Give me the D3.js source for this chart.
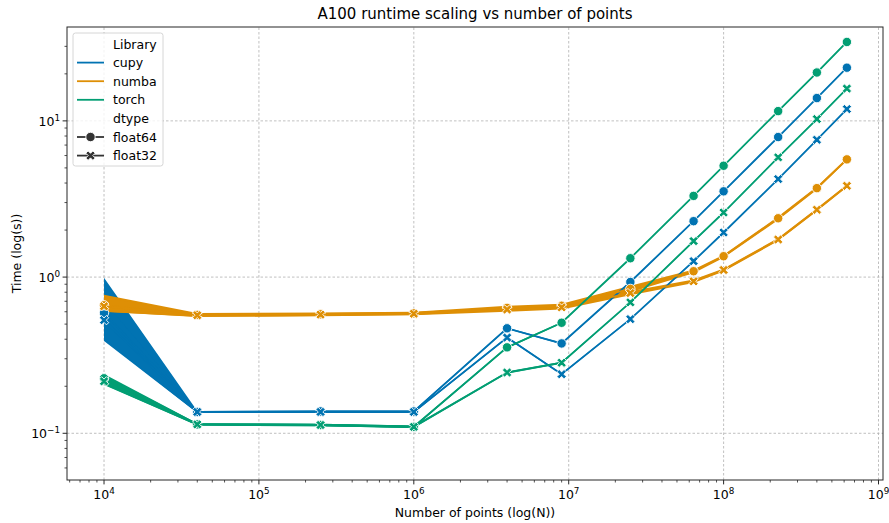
<!DOCTYPE html>
<html>
<head>
<meta charset="utf-8">
<script src="https://cdn.jsdelivr.net/npm/d3@7"></script>
<style>
  body { margin: 0; background: #fff; }
  text { font-family: "DejaVu Sans", sans-serif; fill: #000; }
</style>
</head>
<body>
<div id="chart"></div>
<script>
// number of points (x)
var sizes = [1e4, 4e4, 2.5e5, 1e6, 4e6, 9e6, 2.5e7, 6.4e7, 1e8, 2.25e8, 4e8, 6.25e8];

var libraries = ["cupy", "numba", "torch"];
var dtypes = ["float64", "float32"];

// mean runtimes (s) and confidence band
var cupy64   = [0.59, 0.137, 0.138, 0.138, 0.47, 0.376, 0.93, 2.28, 3.54, 7.88, 14.0, 21.9];
var cupy64Lo = [0.39, 0.135, 0.136, 0.136, 0.465, 0.372, 0.92, 2.26, 3.51, 7.82, 13.9, 21.7];
var cupy64Hi = [0.99, 0.139, 0.140, 0.140, 0.475, 0.380, 0.94, 2.30, 3.57, 7.94, 14.1, 22.1];
var cupy32   = [0.53, 0.137, 0.137, 0.137, 0.41, 0.239, 0.538, 1.265, 1.93, 4.24, 7.57, 11.9];
var cupy32Lo = [0.40, 0.135, 0.135, 0.135, 0.405, 0.236, 0.533, 1.255, 1.92, 4.21, 7.52, 11.8];
var cupy32Hi = [0.70, 0.139, 0.139, 0.139, 0.415, 0.242, 0.543, 1.275, 1.94, 4.27, 7.62, 12.0];

var numba64   = [0.66, 0.573, 0.578, 0.586, 0.635, 0.655, 0.84, 1.09, 1.36, 2.38, 3.71, 5.67];
var numba64Lo = [0.60, 0.558, 0.563, 0.571, 0.615, 0.635, 0.80, 1.06, 1.33, 2.32, 3.62, 5.55];
var numba64Hi = [0.77, 0.588, 0.593, 0.601, 0.655, 0.675, 0.88, 1.12, 1.39, 2.44, 3.80, 5.79];
var numba32   = [0.65, 0.570, 0.575, 0.583, 0.620, 0.640, 0.79, 0.94, 1.11, 1.74, 2.70, 3.84];
var numba32Lo = [0.60, 0.556, 0.561, 0.569, 0.600, 0.620, 0.765, 0.915, 1.085, 1.70, 2.64, 3.76];
var numba32Hi = [0.74, 0.585, 0.590, 0.598, 0.640, 0.660, 0.815, 0.965, 1.135, 1.78, 2.76, 3.92];

var torch64   = [0.225, 0.114, 0.113, 0.110, 0.355, 0.51, 1.32, 3.31, 5.16, 11.55, 20.4, 32.0];
var torch64Lo = [0.205, 0.112, 0.111, 0.108, 0.350, 0.505, 1.31, 3.28, 5.12, 11.45, 20.2, 31.7];
var torch64Hi = [0.240, 0.116, 0.115, 0.112, 0.360, 0.515, 1.33, 3.34, 5.20, 11.65, 20.6, 32.3];
var torch32   = [0.215, 0.114, 0.113, 0.110, 0.245, 0.283, 0.689, 1.70, 2.59, 5.84, 10.27, 16.1];
var torch32Lo = [0.204, 0.112, 0.111, 0.108, 0.241, 0.279, 0.682, 1.68, 2.57, 5.79, 10.18, 15.95];
var torch32Hi = [0.235, 0.116, 0.115, 0.112, 0.249, 0.287, 0.696, 1.72, 2.61, 5.89, 10.36, 16.25];

// tick labels (exponents)
var xTickExps = ["4", "5", "6", "7", "8", "9"];
var yTickExps = ["\u22121", "0", "1"];

var libColors = {cupy: "#0173b2", numba: "#de8f05", torch: "#029e73"};

var series = [
  {lib: "cupy",  dtype: "float64", mean: cupy64,  lo: cupy64Lo,  hi: cupy64Hi},
  {lib: "cupy",  dtype: "float32", mean: cupy32,  lo: cupy32Lo,  hi: cupy32Hi},
  {lib: "numba", dtype: "float64", mean: numba64, lo: numba64Lo, hi: numba64Hi},
  {lib: "numba", dtype: "float32", mean: numba32, lo: numba32Lo, hi: numba32Hi},
  {lib: "torch", dtype: "float64", mean: torch64, lo: torch64Lo, hi: torch64Hi},
  {lib: "torch", dtype: "float32", mean: torch32, lo: torch32Lo, hi: torch32Hi}
];

var W = 889, H = 523;
var margin = {top: 27, right: 6, bottom: 43, left: 67};

var svg = d3.select("#chart")
  .append("svg")
    .attr("width", W)
    .attr("height", H)
    .style("background", "#fff");

var x = d3.scaleLog()
  .domain([Math.pow(10, 3.761), Math.pow(10, 9.029)])
  .range([margin.left, W - margin.right]);

var y = d3.scaleLog()
  .domain([Math.pow(10, -1.299), Math.pow(10, 1.601)])
  .range([H - margin.bottom, margin.top]);

var x0 = margin.left, x1 = W - margin.right, y0 = H - margin.bottom, y1 = margin.top;

function isMajor(v) { return Math.abs(Math.log10(v) - Math.round(Math.log10(v))) < 1e-9; }
var xTicks = x.ticks(), yTicks = y.ticks();
var xMajor = xTicks.filter(isMajor), xMinor = xTicks.filter(function(v) { return !isMajor(v); });
var yMajor = yTicks.filter(isMajor), yMinor = yTicks.filter(function(v) { return !isMajor(v); });

// grid
var grid = svg.append("g").attr("stroke", "#b0b0b0").attr("stroke-width", 0.8).attr("stroke-dasharray", "2.5,2");
grid.selectAll(".gx").data(xMajor).enter().append("line")
  .attr("x1", function(d) { return x(d); }).attr("x2", function(d) { return x(d); })
  .attr("y1", y0).attr("y2", y1);
grid.selectAll(".gy").data(yMajor).enter().append("line")
  .attr("y1", function(d) { return y(d); }).attr("y2", function(d) { return y(d); })
  .attr("x1", x0).attr("x2", x1);

// clip to the axes
svg.append("clipPath").attr("id", "plotclip")
  .append("rect").attr("x", x0).attr("y", y1).attr("width", x1 - x0).attr("height", y0 - y1);
var plot = svg.append("g").attr("clip-path", "url(#plotclip)");

// confidence bands (under every line)
var band = d3.area()
  .x(function(d, i) { return x(sizes[i]); })
  .y0(function(d, i) { return y(d[0]); })
  .y1(function(d, i) { return y(d[1]); });

series.forEach(function(s) {
  var pts = s.lo.map(function(v, i) { return [v, s.hi[i]]; });
  plot.append("path")
    .attr("d", band(pts))
    .attr("fill", libColors[s.lib])
    .attr("stroke", "none");
});

// filled "X" marker like matplotlib
function xMarkerPath(r) {
  var L = 1, w = 0.32;
  var pts = [[w,L],[w,w],[L,w],[L,-w],[w,-w],[w,-L],[-w,-L],[-w,-w],[-L,-w],[-L,w],[-w,w],[-w,L]];
  var k = r * Math.SQRT2 / (L + w);
  var c = Math.SQRT1_2;
  return "M" + pts.map(function(p) {
    return [((p[0] - p[1]) * c * k).toFixed(2), ((p[0] + p[1]) * c * k).toFixed(2)].join(",");
  }).join("L") + "Z";
}

var line = d3.line()
  .x(function(d, i) { return x(sizes[i]); })
  .y(function(d) { return y(d); });

series.forEach(function(s) {
  var col = libColors[s.lib];
  plot.append("path")
    .attr("d", line(s.mean))
    .attr("fill", "none")
    .attr("stroke", col)
    .attr("stroke-width", 1.8);
  var g = plot.append("g");
  s.mean.forEach(function(v, i) {
    if (s.dtype === "float64") {
      g.append("circle")
        .attr("cx", x(sizes[i])).attr("cy", y(v)).attr("r", 4.7)
        .attr("fill", col).attr("stroke", "#fff").attr("stroke-width", 0.9);
    } else {
      g.append("path")
        .attr("d", xMarkerPath(4.7))
        .attr("transform", "translate(" + x(sizes[i]) + "," + y(v) + ")")
        .attr("fill", col).attr("stroke", "#fff").attr("stroke-width", 0.9);
    }
  });
});

// spines
svg.append("rect")
  .attr("x", x0).attr("y", y1).attr("width", x1 - x0).attr("height", y0 - y1)
  .attr("fill", "none").attr("stroke", "#262626").attr("stroke-width", 1);

// ticks
var tk = svg.append("g").attr("stroke", "#262626");
tk.selectAll(".xM").data(xMajor).enter().append("line")
  .attr("x1", function(d) { return x(d); }).attr("x2", function(d) { return x(d); })
  .attr("y1", y0).attr("y2", y0 + 4.4).attr("stroke-width", 1);
tk.selectAll(".xm").data(xMinor).enter().append("line")
  .attr("x1", function(d) { return x(d); }).attr("x2", function(d) { return x(d); })
  .attr("y1", y0).attr("y2", y0 + 2.5).attr("stroke-width", 0.8);
tk.selectAll(".yM").data(yMajor).enter().append("line")
  .attr("y1", function(d) { return y(d); }).attr("y2", function(d) { return y(d); })
  .attr("x1", x0).attr("x2", x0 - 4.4).attr("stroke-width", 1);
tk.selectAll(".ym").data(yMinor).enter().append("line")
  .attr("y1", function(d) { return y(d); }).attr("y2", function(d) { return y(d); })
  .attr("x1", x0).attr("x2", x0 - 2.5).attr("stroke-width", 0.8);

// tick labels: 10 with superscript exponent
xMajor.forEach(function(v, i) {
  var t = svg.append("text")
    .attr("x", x(v)).attr("y", y0 + 19)
    .attr("text-anchor", "middle")
    .style("font-size", "12.5px");
  t.append("tspan").text("10");
  t.append("tspan").attr("dy", -5).style("font-size", "8.8px").text(xTickExps[i]);
});
yMajor.forEach(function(v, i) {
  var t = svg.append("text")
    .attr("x", x0 - 7).attr("y", y(v) + 5)
    .attr("text-anchor", "end")
    .style("font-size", "12.5px");
  t.append("tspan").text("10");
  t.append("tspan").attr("dy", -5).style("font-size", "8.8px").text(yTickExps[i]);
});

// title and axis labels
svg.append("text")
  .attr("x", (x0 + x1) / 2).attr("y", 19)
  .attr("text-anchor", "middle")
  .style("font-size", "15px")
  .text("A100 runtime scaling vs number of points");

svg.append("text")
  .attr("x", (x0 + x1) / 2).attr("y", 517)
  .attr("text-anchor", "middle")
  .style("font-size", "12.5px")
  .text("Number of points (log(N))");

svg.append("text")
  .attr("transform", "translate(21," + ((y0 + y1) / 2) + ") rotate(-90)")
  .attr("text-anchor", "middle")
  .style("font-size", "12.5px")
  .text("Time (log(s))");

// legend
var leg = svg.append("g").attr("transform", "translate(73,33)");
leg.append("rect")
  .attr("width", 90).attr("height", 133).attr("rx", 2.5)
  .attr("fill", "#fff").attr("fill-opacity", 0.8)
  .attr("stroke", "#cccccc").attr("stroke-width", 0.8);

var rows = [{label: "Library"}]
  .concat(libraries.map(function(l) { return {label: l, color: libColors[l]}; }))
  .concat([{label: "dtype"}])
  .concat(dtypes.map(function(d) { return {label: d, color: "#333333", marker: d}; }));

rows.forEach(function(r, i) {
  var cy = 11 + i * 18.6;
  if (r.color) {
    leg.append("line")
      .attr("x1", 4).attr("x2", 31).attr("y1", cy).attr("y2", cy)
      .attr("stroke", r.color).attr("stroke-width", 1.8);
  }
  if (r.marker === "float64") {
    leg.append("circle").attr("cx", 17.5).attr("cy", cy).attr("r", 4.7)
      .attr("fill", r.color).attr("stroke", "#fff").attr("stroke-width", 0.9);
  } else if (r.marker === "float32") {
    leg.append("path").attr("d", xMarkerPath(4.7))
      .attr("transform", "translate(17.5," + cy + ")")
      .attr("fill", r.color).attr("stroke", "#fff").attr("stroke-width", 0.9);
  }
  leg.append("text")
    .attr("x", 40).attr("y", cy + 4.5)
    .style("font-size", "12.5px")
    .text(r.label);
});
</script>
</body>
</html>
